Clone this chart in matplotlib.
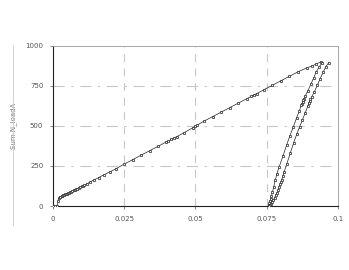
import numpy as np
import matplotlib
matplotlib.use('Agg')
import matplotlib.pyplot as plt

# loading branch
load_x = [0.0, 0.0008, 0.0015, 0.0018, 0.002, 0.0023, 0.0026, 0.003, 0.0033, 0.0036, 0.004,
          0.0043, 0.0046, 0.005, 0.0053, 0.0056, 0.006, 0.0064, 0.0068, 0.0072, 0.0076,
          0.008, 0.0085, 0.009, 0.0095, 0.010, 0.0105, 0.011, 0.012, 0.013, 0.0145,
          0.016, 0.018, 0.020, 0.022, 0.025, 0.028, 0.031, 0.034, 0.037, 0.0395, 0.0405,
          0.0415, 0.0425, 0.0435, 0.046, 0.049, 0.050, 0.0505, 0.053, 0.056, 0.059, 0.062,
          0.065, 0.068, 0.0695, 0.0705, 0.0715, 0.074, 0.077, 0.080, 0.083, 0.086,
          0.089, 0.091, 0.0925, 0.094]
load_y = [0, 0, 0, 30, 50, 54, 57, 60, 63, 66, 70,
          72, 75, 78, 81, 84, 87, 90, 94, 98, 101,
          105, 109, 114, 118, 122, 127, 131, 140, 150, 164,
          178, 196, 214, 232, 262, 290, 318, 346, 374, 398, 406,
          416, 426, 434, 458, 488, 500, 504, 530, 558, 586, 614,
          642, 670, 684, 694, 702, 726, 754, 782, 810, 838,
          862, 875, 888, 900]

# unloading branches
unl1_x = [0.0945, 0.0935, 0.0925, 0.0915, 0.0905, 0.0895, 0.0885, 0.0880, 0.0878, 0.0876,
          0.0874, 0.0872, 0.0865, 0.0855, 0.0844, 0.0832, 0.0820, 0.0807, 0.0794, 0.0786,
          0.0780, 0.0775, 0.0770, 0.0767, 0.0764, 0.0762, 0.0760, 0.0758, 0.0757]
unl1_y = [895, 870, 840, 800, 760, 720, 685, 670, 660, 650,
          640, 630, 595, 550, 496, 440, 380, 310, 245, 200,
          160, 120, 85, 62, 45, 30, 18, 8, 0]

unl2_x = [0.0968, 0.0958, 0.0948, 0.0938, 0.0928, 0.0918, 0.0908, 0.0904, 0.0901, 0.0898,
          0.0895, 0.0885, 0.0875, 0.0866, 0.0856, 0.0845, 0.0833, 0.0821, 0.0812, 0.0807,
          0.0803, 0.0800, 0.0797, 0.0794, 0.0790, 0.0786, 0.0782, 0.0778, 0.0774, 0.0770,
          0.0766, 0.0762, 0.0759]
unl2_y = [896, 870, 835, 795, 755, 715, 680, 668, 655, 642,
          625, 580, 535, 496, 450, 395, 330, 265, 215, 185,
          165, 150, 135, 120, 100, 82, 66, 52, 38, 25,
          14, 6, 0]

fig = plt.figure(figsize=(3.49, 2.70), dpi=100)
ax = fig.add_axes([0.152, 0.237, 0.816, 0.593])

for xs, ys in [(load_x, load_y), (unl1_x, unl1_y), (unl2_x, unl2_y)]:
    ax.plot(xs, ys, color='#222222', lw=0.5, marker='s', ms=1.6,
            mfc='white', mec='#222222', mew=0.5, zorder=3)

ax.set_xlim(0, 0.1)
ax.set_ylim(0, 1000)
ax.set_xticks([0, 0.025, 0.05, 0.075, 0.1])
ax.set_xticklabels(['0', '0.025', '0.05', '0.075', '0.1'])
ax.set_yticks([0, 250, 500, 750, 1000])

for v in [0.025, 0.05, 0.075]:
    ax.axvline(v, color='#c8c8c8', lw=0.8, ls=(0, (7, 6)), zorder=1)
for v in [250, 500, 750]:
    ax.axhline(v, color='#c8c8c8', lw=0.8, ls=(0, (10, 6, 2, 6)), zorder=1)

ax.tick_params(labelsize=5, colors='#555555', length=2, width=0.5, pad=5)
ax.set_ylabel('Sum N_loadA', fontsize=5, color='#777777', labelpad=6)
for s in ['left', 'bottom']:
    ax.spines[s].set_color('#222222')
    ax.spines[s].set_linewidth(0.8)
for s in ['top', 'right']:
    ax.spines[s].set_color('#999999')
    ax.spines[s].set_linewidth(0.6)

fig.add_artist(plt.Line2D([13 / 349, 13 / 349], [1 - 225 / 270, 1 - 45 / 270],
                          color='#cccccc', lw=0.6))

fig.savefig('out.png', dpi=100)
